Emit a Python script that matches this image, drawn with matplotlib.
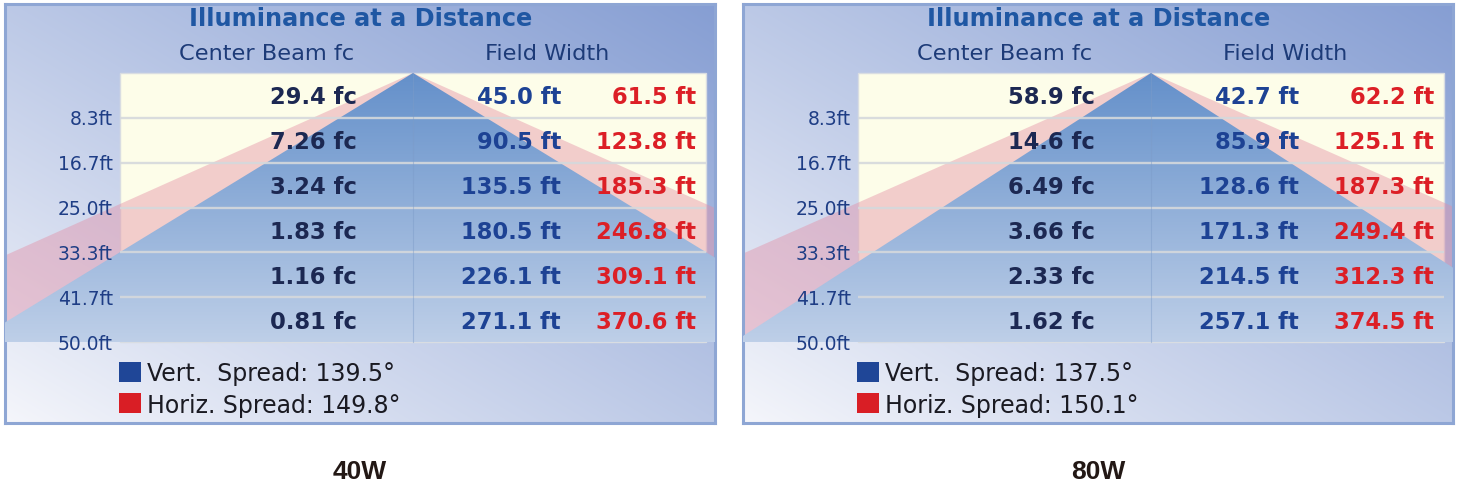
import numpy as np
import matplotlib
matplotlib.use("Agg")
import matplotlib.pyplot as plt
from matplotlib.patches import Polygon, Rectangle

# ---------------- data ----------------
panel_labels = ["40W", "80W"]
distances = [8.3, 16.7, 25.0, 33.3, 41.7, 50.0]          # ft
center_beam_40 = [29.4, 7.26, 3.24, 1.83, 1.16, 0.81]     # fc
vert_width_40 = [45.0, 90.5, 135.5, 180.5, 226.1, 271.1]  # ft
horiz_width_40 = [61.5, 123.8, 185.3, 246.8, 309.1, 370.6]
center_beam_80 = [58.9, 14.6, 6.49, 3.66, 2.33, 1.62]
vert_width_80 = [42.7, 85.9, 128.6, 171.3, 214.5, 257.1]
horiz_width_80 = [62.2, 125.1, 187.3, 249.4, 312.3, 374.5]
vert_spread = [139.5, 137.5]    # degrees
horiz_spread = [149.8, 150.1]   # degrees

center_beam = [center_beam_40, center_beam_80]
vert_width = [vert_width_40, vert_width_80]
horiz_width = [horiz_width_40, horiz_width_80]

# ---------------- layout ----------------
W, H = 1459, 491
fig = plt.figure(figsize=(W / 100, H / 100), dpi=100)
fig.patch.set_facecolor("white")

PW, PH = 710, 419          # panel size in px
APX, APY = 408, 69         # apex position inside panel (px)
HS, VS = 3.246, 5.38       # px per ft horizontally / vertically


def X(px):
    return (px - APX) / HS


def Y(py):
    return (py - APY) / VS


def fig_rect(x0, y0, x1, y1):
    return [x0 / W, 1 - y1 / H, (x1 - x0) / W, (y1 - y0) / H]


FONT = "DejaVu Sans"
bg0 = np.array([245, 246, 251]) / 255
bg1 = np.array([134, 158, 211]) / 255
blue0 = np.array([100, 144, 202]) / 255
blue1 = np.array([190, 207, 232]) / 255

for i in range(2):
    left = 5 + 738 * i
    ax = fig.add_axes(fig_rect(left, 4, left + PW, 4 + PH))
    ax.set_xticks([])
    ax.set_yticks([])
    for s in ax.spines.values():
        s.set_color("#8ea6d4")
        s.set_linewidth(2.2)

    # background gradient
    n = 300
    gx, gy = np.meshgrid(np.linspace(0, 1, n), np.linspace(0, 1, n))
    t = np.clip((gx * 0.5 + gy * 0.5), 0, 1) ** 0.95
    img = bg0 + (bg1 - bg0) * t[..., None]
    ax.imshow(img, extent=[0, 1, 0, 1], transform=ax.transAxes, origin="lower",
              aspect="auto", zorder=0, interpolation="bilinear")

    dmax = distances[-1]
    tx0, tx1 = X(115), X(701)

    # table background
    ax.add_patch(Rectangle((tx0, 0), tx1 - tx0, dmax, facecolor="#fdfde9",
                           edgecolor="#d9dde2", lw=1, zorder=1))

    # horizontal spread (pink)
    th = np.tan(np.radians(horiz_spread[i] / 2))
    ax.add_patch(Polygon([(0, 0), (-dmax * th, dmax), (dmax * th, dmax)],
                         closed=True, facecolor=(228 / 255, 140 / 255, 163 / 255),
                         alpha=0.42, lw=0, zorder=2))

    # vertical spread (blue gradient)
    tv = np.tan(np.radians(vert_spread[i] / 2))
    tri = Polygon([(0, 0), (-dmax * tv, dmax), (dmax * tv, dmax)], closed=True,
                  facecolor="none", edgecolor="none", zorder=3)
    ax.add_patch(tri)
    g = np.linspace(0, 1, 256)[:, None, None]
    bimg = blue0 + (blue1 - blue0) * g
    bimg = np.repeat(bimg, 2, axis=1)
    im = ax.imshow(bimg, extent=(-dmax * tv, dmax * tv, dmax, 0), origin="upper",
                   aspect="auto", zorder=3, interpolation="bilinear")
    im.set_clip_path(tri)

    # row separators and centre line
    for d in distances[:-1]:
        ax.plot([tx0, tx1], [d, d], color="#d5d9dc", lw=1.7, alpha=0.9,
                zorder=4, solid_capstyle="butt")
    ax.plot([0, 0], [0, dmax], color="#7c9bc8", lw=0.8, alpha=0.45, zorder=4)

    # title and headers
    ax.text(X(356), Y(15), "Illuminance at a Distance", ha="center", va="center",
            fontsize=17.3, fontweight="bold", color="#1f57a3", family=FONT, zorder=5)
    ax.text(X(262), Y(50), "Center Beam fc", ha="center", va="center",
            fontsize=16.2, color="#1d3b78", family=FONT, zorder=5)
    ax.text(X(542), Y(50), "Field Width", ha="center", va="center",
            fontsize=16.2, color="#1d3b78", family=FONT, zorder=5)

    # distance labels
    for d in distances:
        ax.text(X(108), d, f"{d:.1f}ft", ha="right", va="center_baseline",
                fontsize=13.5, color="#1e3d85", family=FONT, zorder=5)

    # values
    prev = 0.0
    for j, d in enumerate(distances):
        yc = (prev + d) / 2
        prev = d
        ax.text(X(352), yc, f"{center_beam[i][j]:.3g} fc", ha="right",
                va="center_baseline", fontsize=16.3, fontweight="bold",
                color="#1c2852", family=FONT, zorder=5)
        ax.text(X(556), yc, f"{vert_width[i][j]:.1f} ft", ha="right",
                va="center_baseline", fontsize=16.3, fontweight="bold",
                color="#1d4294", family=FONT, zorder=5)
        ax.text(X(691), yc, f"{horiz_width[i][j]:.1f} ft", ha="right",
                va="center_baseline", fontsize=16.3, fontweight="bold",
                color="#dc1f26", family=FONT, zorder=5)

    # legend
    ax.add_patch(Rectangle((X(114), Y(358)), X(136) - X(114), Y(378) - Y(358),
                           facecolor="#1f4697", edgecolor="none", zorder=5))
    ax.add_patch(Rectangle((X(114), Y(389)), X(136) - X(114), Y(409) - Y(389),
                           facecolor="#d91e25", edgecolor="none", zorder=5))
    ax.text(X(142), Y(368), f"Vert.  Spread: {vert_spread[i]:.1f}°", ha="left",
            va="center_baseline", fontsize=17, color="#1a1a22", family=FONT, zorder=5)
    ax.text(X(142), Y(399), f"Horiz. Spread: {horiz_spread[i]:.1f}°", ha="left",
            va="center_baseline", fontsize=17, color="#1a1a22", family=FONT, zorder=5)

    ax.set_xlim(X(0), X(PW))
    ax.set_ylim(Y(PH), Y(0))

    fig.text((360 + 738 * i) / W, 1 - 472 / H, panel_labels[i], ha="center",
             va="center", fontsize=19, fontweight="bold", color="#231815",
             family="Liberation Sans")

fig.savefig("out.png", dpi=100, facecolor="white")
